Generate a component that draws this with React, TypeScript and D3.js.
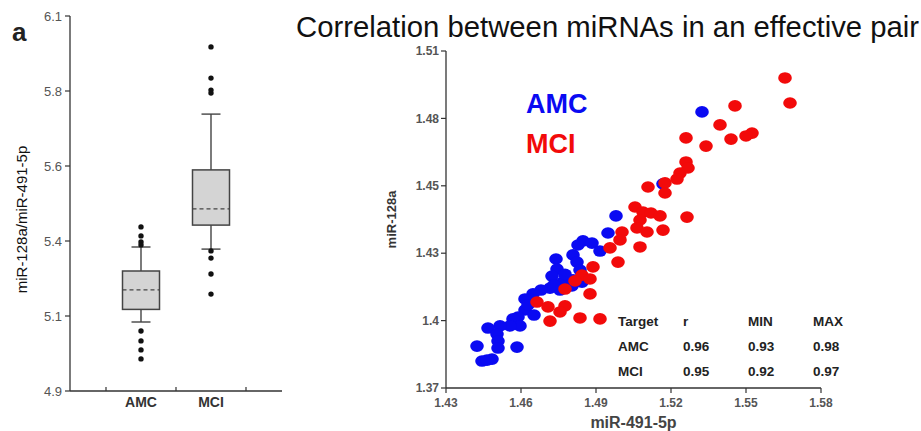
import React from "react";
import * as d3 from "d3";

// ---------- Box plot data ----------
const boxCategories = ["AMC", "MCI"];
const boxWhiskerLow = [5.08, 5.323];
const boxQ1 = [5.122, 5.403];
const boxMedian = [5.187, 5.457];
const boxQ3 = [5.25, 5.587];
const boxWhiskerHigh = [5.33, 5.773];
const amcOutliers = [5.397, 5.367, 5.347, 5.337, 5.05, 5.017, 4.987, 4.957];
const mciOutliers = [5.997, 5.893, 5.853, 5.843, 5.317, 5.293, 5.24, 5.173];
const boxTickValues = [4.85, 5.1, 5.35, 5.6, 5.85, 6.1];
const boxTickLabels = ["4.9", "5.1", "5.4", "5.6", "5.8", "6.1"];

// ---------- Scatter data ----------
const amcX = [1.5324, 1.498, 1.4948, 1.4848, 1.4884, 1.4828, 1.4916, 1.4808, 1.474, 1.4824, 1.4744, 1.4724, 1.4836, 1.4844, 1.4808, 1.4768, 1.4716, 1.468, 1.4648, 1.4616, 1.4756, 1.4804, 1.4616, 1.4652, 1.4588, 1.4568, 1.4596, 1.4556, 1.4516, 1.4468, 1.4504, 1.4508, 1.4424, 1.4584, 1.4508, 1.4444, 1.4484, 1.4464, 1.5168, 1.4776, 1.4732, 1.4628];
const amcY = [1.4847, 1.4415, 1.4344, 1.4311, 1.4302, 1.4294, 1.4269, 1.4253, 1.4236, 1.4223, 1.4194, 1.4165, 1.419, 1.414, 1.4149, 1.414, 1.4115, 1.4107, 1.4091, 1.407, 1.4107, 1.4124, 1.4024, 1.4003, 1.3995, 1.3987, 1.3958, 1.3958, 1.3958, 1.3949, 1.3924, 1.3895, 1.3874, 1.387, 1.3866, 1.3812, 1.382, 1.3816, 1.4548, 1.4172, 1.4128, 1.4045];
const mciX = [1.5656, 1.5676, 1.5456, 1.5396, 1.526, 1.534, 1.544, 1.5524, 1.55, 1.526, 1.5236, 1.5268, 1.5224, 1.5176, 1.5108, 1.5176, 1.5056, 1.5088, 1.512, 1.5156, 1.5264, 1.5076, 1.5064, 1.5104, 1.5168, 1.5004, 1.4996, 1.4956, 1.5076, 1.4988, 1.4888, 1.4844, 1.4876, 1.4816, 1.4776, 1.4876, 1.4664, 1.4708, 1.4776, 1.4756, 1.4716, 1.4836, 1.4916];
const mciY = [1.4988, 1.4884, 1.4872, 1.4793, 1.4739, 1.4705, 1.4734, 1.4759, 1.4747, 1.4639, 1.4593, 1.4614, 1.4568, 1.4552, 1.4535, 1.451, 1.4452, 1.4431, 1.4427, 1.4415, 1.441, 1.4398, 1.4365, 1.4348, 1.4356, 1.4348, 1.4315, 1.4282, 1.4286, 1.4223, 1.4203, 1.4169, 1.4153, 1.4145, 1.4111, 1.4091, 1.4057, 1.4037, 1.4041, 1.4016, 1.3978, 1.3991, 1.3987];
const scatterXTicks = [1.43, 1.46, 1.49, 1.52, 1.55, 1.58];
const scatterYTickValues = [1.37, 1.398, 1.426, 1.454, 1.482, 1.51];
const scatterYTickLabels = ["1.37", "1.4", "1.43", "1.45", "1.48", "1.51"];

// ---------- Table ----------
const tableHeader = ["Target", "r", "MIN", "MAX"];
const tableGroups = ["AMC", "MCI"];
const tableR = [0.96, 0.95];
const tableMin = [0.93, 0.92];
const tableMax = [0.98, 0.97];

const FONT = "'Liberation Sans', Arial, sans-serif";
const BLUE = "#0a0af2";
const RED = "#f20a0a";

export default function App() {
  // box plot scales
  const by = d3.scaleLinear().domain([4.85, 6.1]).range([391, 16]);
  const bx = d3.scaleBand().domain(boxCategories).range([106, 246]);
  const boxW = 37;
  const capW = 19;
  const outliers = [amcOutliers, mciOutliers];

  // scatter scales
  const sx = d3.scaleLinear().domain([1.43, 1.58]).range([446, 821]);
  const sy = d3.scaleLinear().domain([1.37, 1.51]).range([388, 51]);

  const tableCols = [618, 683, 748, 813];
  const tableRowsY = [326, 351, 376];
  const tableData = tableGroups.map((g, i) => [g, tableR[i].toFixed(2), tableMin[i].toFixed(2), tableMax[i].toFixed(2)]);

  return (
    <svg width={921} height={431} style={{ position: "absolute", left: 0, top: 0, background: "#fff" }} fontFamily={FONT}>
      <rect width={921} height={431} fill="#fff" />
      {/* panel label */}
      <text x={12} y={41} fontSize={26} fontWeight="bold" fill="#222">a</text>

      {/* box plot axes */}
      <line x1={70} x2={70} y1={by(6.1)} y2={by(4.85)} stroke="#333" strokeWidth={1.3} />
      <line x1={70} x2={282} y1={by(4.85)} y2={by(4.85)} stroke="#333" strokeWidth={1.3} />
      {boxTickValues.map((v, i) => (
        <g key={"bt" + i}>
          <line x1={65} x2={70} y1={by(v)} y2={by(v)} stroke="#333" strokeWidth={1.2} />
          <text x={62} y={by(v)} dy="0.35em" textAnchor="end" fontSize={13} fill="#555">{boxTickLabels[i]}</text>
        </g>
      ))}
      {[...boxCategories.map((c) => bx(c)!), bx.range()[1]].map((xv, i) => (
        <line key={"bx" + i} x1={xv} x2={xv} y1={by(4.85)} y2={by(4.85) - 4} stroke="#333" strokeWidth={1.2} />
      ))}
      {boxCategories.map((c) => (
        <text key={"bl" + c} x={bx(c)! + bx.bandwidth() / 2} y={407} textAnchor="middle" fontSize={14} fontWeight="bold" fill="#333">{c}</text>
      ))}
      <text transform={`translate(27,${(by(6.1) + by(4.85)) / 2 + 16}) rotate(-90)`} textAnchor="middle" fontSize={15} fill="#111">miR-128a/miR-491-5p</text>

      {boxCategories.map((c, i) => {
        const cx = bx(c)! + bx.bandwidth() / 2;
        return (
          <g key={"box" + c}>
            <line x1={cx} x2={cx} y1={by(boxWhiskerHigh[i])} y2={by(boxQ3[i])} stroke="#444" strokeWidth={1.4} />
            <line x1={cx} x2={cx} y1={by(boxQ1[i])} y2={by(boxWhiskerLow[i])} stroke="#444" strokeWidth={1.4} />
            <line x1={cx - capW / 2} x2={cx + capW / 2} y1={by(boxWhiskerHigh[i])} y2={by(boxWhiskerHigh[i])} stroke="#444" strokeWidth={1.4} />
            <line x1={cx - capW / 2} x2={cx + capW / 2} y1={by(boxWhiskerLow[i])} y2={by(boxWhiskerLow[i])} stroke="#444" strokeWidth={1.4} />
            <rect x={cx - boxW / 2} y={by(boxQ3[i])} width={boxW} height={by(boxQ1[i]) - by(boxQ3[i])} fill="#d4d4d4" stroke="#444" strokeWidth={1.5} />
            <line x1={cx - boxW / 2} x2={cx + boxW / 2} y1={by(boxMedian[i])} y2={by(boxMedian[i])} stroke="#444" strokeWidth={1.3} strokeDasharray="4,3" />
            {outliers[i].map((v, j) => (
              <circle key={j} cx={cx} cy={by(v)} r={2.7} fill="#111" />
            ))}
          </g>
        );
      })}

      {/* title */}
      <text x={296} y={37} fontSize={29.3} fill="#111">Correlation between miRNAs in an effective pair</text>

      {/* scatter axes */}
      <line x1={sx(1.43)} x2={sx(1.43)} y1={sy(1.51)} y2={sy(1.37)} stroke="#333" strokeWidth={1.3} />
      <line x1={sx(1.43)} x2={sx(1.58)} y1={sy(1.37)} y2={sy(1.37)} stroke="#333" strokeWidth={1.3} />
      {scatterYTickValues.map((v, i) => (
        <g key={"sy" + i}>
          <line x1={sx(1.43) - 5} x2={sx(1.43)} y1={sy(v)} y2={sy(v)} stroke="#333" strokeWidth={1.2} />
          <text x={sx(1.43) - 7} y={sy(v)} dy="0.35em" textAnchor="end" fontSize={12} fontWeight="bold" fill="#555">{scatterYTickLabels[i]}</text>
        </g>
      ))}
      {scatterXTicks.map((v, i) => (
        <g key={"sx" + i}>
          <line x1={sx(v)} x2={sx(v)} y1={sy(1.37)} y2={sy(1.37) + 5} stroke="#333" strokeWidth={1.2} />
          <text x={sx(v)} y={407} textAnchor="middle" fontSize={12} fontWeight="bold" fill="#555">{v.toFixed(2)}</text>
        </g>
      ))}
      <text x={(sx(1.43) + sx(1.58)) / 2} y={428} textAnchor="middle" fontSize={16} fontWeight="bold" fill="#444">miR-491-5p</text>
      <text transform={`translate(396,${(sy(1.51) + sy(1.37)) / 2}) rotate(-90)`} textAnchor="middle" fontSize={13} fontWeight="bold" fill="#333">miR-128a</text>

      {/* points */}
      {amcX.map((v, i) => (
        <ellipse key={"a" + i} cx={sx(v)} cy={sy(amcY[i])} rx={6.8} ry={5.8} fill={BLUE} />
      ))}
      {mciX.map((v, i) => (
        <ellipse key={"m" + i} cx={sx(v)} cy={sy(mciY[i])} rx={6.8} ry={5.8} fill={RED} />
      ))}

      {/* legend */}
      <text x={526} y={113} fontSize={27} fontWeight="bold" fill={BLUE}>AMC</text>
      <text x={526} y={153} fontSize={27} fontWeight="bold" fill={RED}>MCI</text>

      {/* table */}
      {tableHeader.map((h, j) => (
        <text key={"h" + j} x={tableCols[j]} y={tableRowsY[0]} fontSize={13.5} fontWeight="bold" fill="#222">{h}</text>
      ))}
      {tableData.map((row, i) =>
        row.map((cell, j) => (
          <text key={"c" + i + j} x={tableCols[j]} y={tableRowsY[i + 1]} fontSize={13.5} fontWeight="bold" fill="#222">{cell}</text>
        ))
      )}
    </svg>
  );
}
